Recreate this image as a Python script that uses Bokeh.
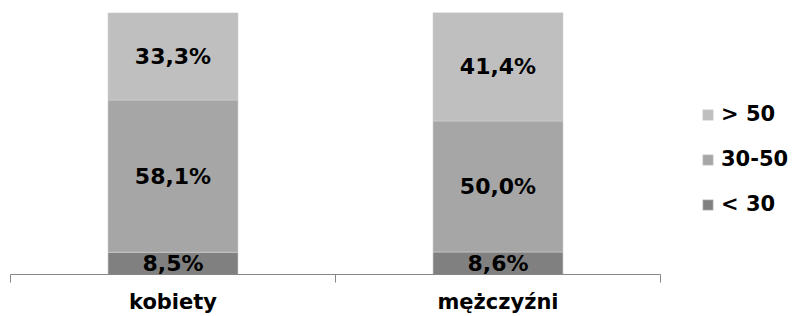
import numpy as np
from bokeh.plotting import figure
from bokeh.models import (ColumnDataSource, FixedTicker, LinearAxis, Range1d,
                          Legend, LegendItem)
from bokeh.core.properties import value
from bokeh.embed import file_html
from bokeh.resources import INLINE

categories = ["kobiety", "mężczyźni"]
groups = ["< 30", "30-50", "> 50"]
under_30 = [8.5, 8.6]
from_30_to_50 = [58.1, 50.0]
over_50 = [33.3, 41.4]
colors = ["#808080", "#A6A6A6", "#BFBFBF"]

FONT = "DejaVu Sans"

xs = [i + 0.5 for i in range(len(categories))]
src = ColumnDataSource({"x": xs, "< 30": under_30, "30-50": from_30_to_50, "> 50": over_50})

W, H = 793, 316
LEFT = 10
p = figure(width=W, height=H,
           x_range=Range1d(0, (W - LEFT) / 325), y_range=Range1d(0, 100),
           output_backend="svg", toolbar_location=None,
           x_axis_location=None, y_axis_location=None,
           min_border_left=LEFT, min_border_right=0, min_border_top=12, min_border_bottom=42)
p.outline_line_color = None
p.xgrid.visible = False
p.ygrid.visible = False

renderers = p.vbar_stack(groups, x="x", width=0.4, color=colors, source=src,
                         line_color="#d0d0d0", line_width=0.6)

# value labels
series = [under_30, from_30_to_50, over_50]
lx, ly, lt = [], [], []
for ci in range(len(categories)):
    bottom = 0.0
    for s in series:
        v = s[ci]
        lx.append(xs[ci])
        ly.append(bottom + v / 2)
        lt.append(f"{v:.1f}".replace(".", ",") + "%")
        bottom += v
lsrc = ColumnDataSource({"x": lx, "y": ly, "t": lt})
p.text(x="x", y="y", text="t", source=lsrc, text_align="center", text_baseline="middle",
       text_font=value(FONT), text_font_style="bold", text_font_size="22px",
       text_color="black")

xaxis = LinearAxis(bounds=(0, len(categories)),
                   ticker=FixedTicker(ticks=xs, minor_ticks=list(range(len(categories) + 1))),
                   major_label_overrides={x: c for x, c in zip(xs, categories)},
                   axis_line_color="#868686", axis_line_width=1,
                   major_tick_line_color=None, major_tick_out=0, major_tick_in=0,
                   minor_tick_line_color="#868686", minor_tick_out=8, minor_tick_in=0,
                   major_label_text_font=FONT, major_label_text_font_style="bold",
                   major_label_text_font_size="21px", major_label_standoff=7,
                   major_label_text_color="black")
p.add_layout(xaxis, "below")

legend = Legend(items=[LegendItem(label=groups[i], renderers=[renderers[i]]) for i in (2, 1, 0)],
                location=(691, 58), glyph_width=13, glyph_height=13, label_standoff=7,
                spacing=21, padding=0, margin=0, border_line_color=None,
                background_fill_alpha=0,
                label_text_font=FONT, label_text_font_style="bold",
                label_text_font_size="21px", label_text_color="black")
p.add_layout(legend, "center")

open("out.html", "w").write(file_html(p, INLINE))
